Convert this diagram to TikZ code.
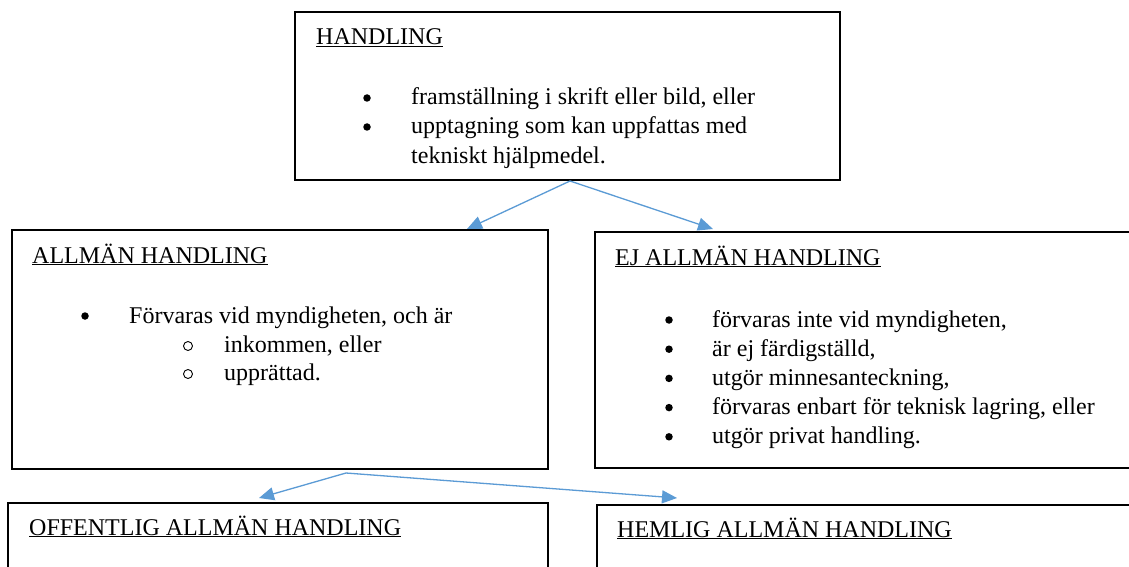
\documentclass[tikz,border=0pt]{standalone}
\usepackage{fontspec}
\setmainfont{Liberation Serif}
\usetikzlibrary{arrows.meta}
\definecolor{arrowblue}{HTML}{5B9BD5}
\tikzset{
  box/.style={draw=black, line width=1.5pt},
  txt/.style={anchor=base west, inner sep=0pt, font=\fontsize{24}{29}\selectfont},
  bul/.style={circle, fill=black, inner sep=0pt, minimum size=7.5pt},
  subbul/.style={circle, draw=black, line width=0.9pt, inner sep=0pt, minimum size=9pt},
  conn/.style={draw=arrowblue, line width=1.3pt, -{Triangle[length=15pt,width=13pt]}}
}
\newcommand{\ul}[1]{\underline{#1}}
\begin{document}
\begin{tikzpicture}[x=1pt,y=-1pt]
\clip (0,0) rectangle (1129,567);
\fill[white] (0,0) rectangle (1129,567);
% boxes
\draw[box] (295,12) rectangle (840,180);
\draw[box] (12,230) rectangle (548,469);
\draw[box] (595,232) rectangle (1140,468);
\draw[box] (8,503) rectangle (548,600);
\draw[box] (597,505) rectangle (1140,600);
% top box text
\node[txt] (t0) at (316,45) {\ul{HANDLING}};
\node[bul] (t1b) at (367,98) {};
\node[txt] (t1) at (411,105) {framställning i skrift eller bild, eller};
\node[bul] (t2b) at (367,127) {};
\node[txt] (t2) at (411,134) {upptagning som kan uppfattas med};
\node[txt] (t3) at (411,163) {tekniskt hjälpmedel.};
% allman box text
\node[txt] (a0) at (32,263) {\ul{ALLMÄN HANDLING}};
\node[bul] (a1b) at (85,316) {};
\node[txt] (a1) at (129,323) {Förvaras vid myndigheten, och är};
\node[subbul] (a2b) at (188,346) {};
\node[txt] (a2) at (224,352) {inkommen, eller};
\node[subbul] (a3b) at (188,374) {};
\node[txt] (a3) at (224,380) {upprättad.};
% ej box text
\node[txt] (e0) at (615,265) {\ul{EJ ALLMÄN HANDLING}};
\foreach \i/\t [count=\k from 0] in {1/{förvaras inte vid myndigheten,},2/{är ej färdigställd,},3/{utgör minnesanteckning,},4/{förvaras enbart för teknisk lagring, eller},5/{utgör privat handling.}}{
  \node[bul] (eb\i) at (669,320+29.2*\k) {};
  \node[txt] (e\i) at (712,327+29.2*\k) {\t};
}
% bottom boxes titles
\node[txt] (o0) at (29,535) {\ul{OFFENTLIG ALLMÄN HANDLING}};
\node[txt] (h0) at (617,537) {\ul{HEMLIG ALLMÄN HANDLING}};
% connectors
\coordinate (ap1) at (570,181);
\coordinate (tipA) at (467,229);
\coordinate (tipE) at (713,229);
\coordinate (ap2) at (346,473);
\coordinate (tipO) at (259,498);
\coordinate (tipH) at (677,498);
\draw[conn] (ap1) -- (tipA);
\draw[conn] (ap1) -- (tipE);
\draw[conn] (ap2) -- (tipO);
\draw[conn] (ap2) -- (tipH);
\end{tikzpicture}
\end{document}
